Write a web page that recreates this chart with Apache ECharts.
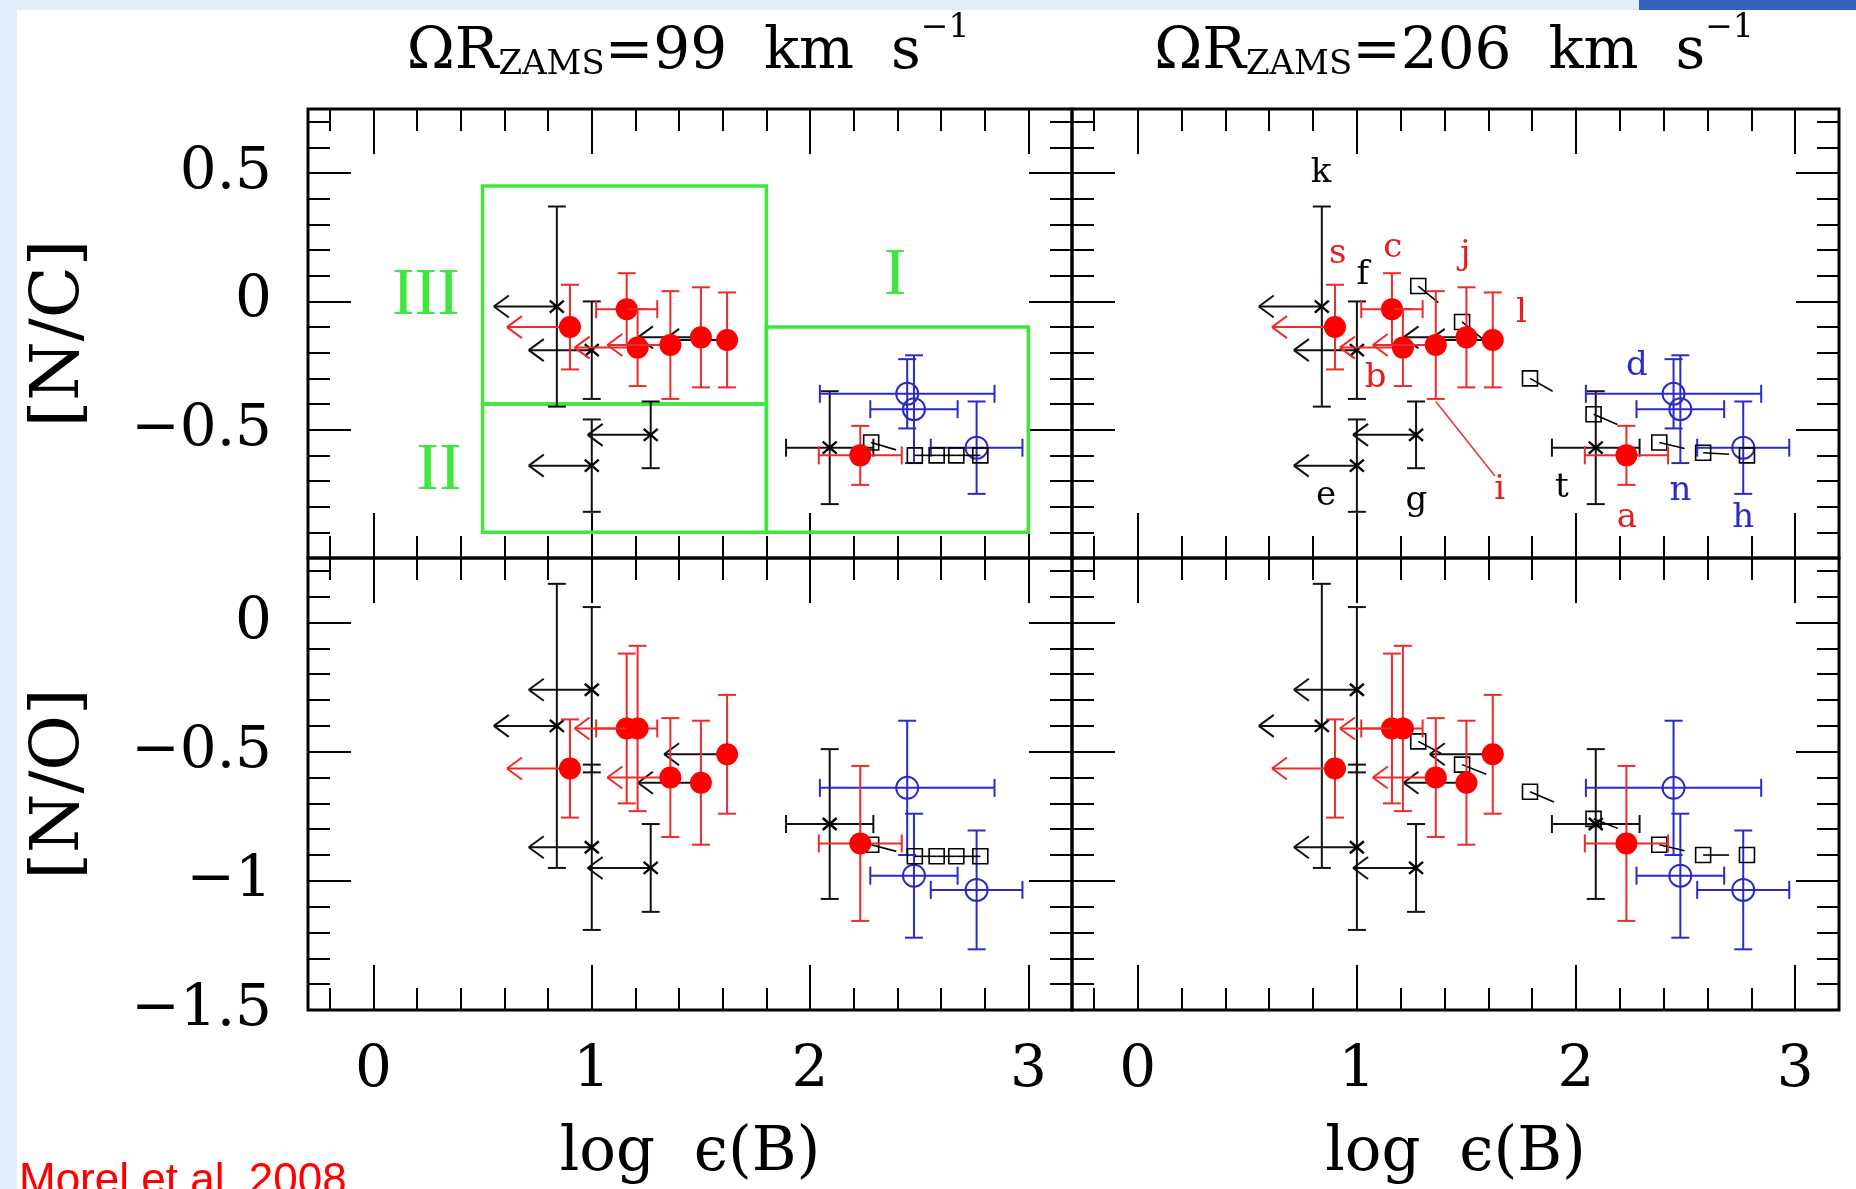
<!DOCTYPE html>
<html><head><meta charset="utf-8">
<script src="https://cdn.jsdelivr.net/npm/echarts@6/dist/echarts.min.js"></script>
<style>html,body{margin:0;padding:0;background:#fff}#c{width:1856px;height:1189px}</style>
</head><body><div id="c"></div>
<script>
// ---------------- data ----------------
const rotSpeeds = [99, 206];
const xTickLabels = [0, 1, 2, 3];
const ncTickLabels = [0.5, 0, -0.5];
const noTickLabels = [0, -0.5, -1, -1.5];

// Morel et al. stars (red filled circles)
const redNames = ['s', 'c', 'b', 'i', 'j', 'l', 'a'];
const redB     = [0.90, 1.16, 1.21, 1.36, 1.50, 1.62, 2.23];
const redBErr  = [0, 0.14, 0, 0, 0, 0, 0.19];
const redLim   = [1, 0, 1, 1, 0, 0, 0];
const redNC    = [-0.10, -0.03, -0.18, -0.17, -0.14, -0.15, -0.60];
const redNCErr = [0.165, 0.14, 0.15, 0.21, 0.195, 0.185, 0.115];
const redNO    = [-0.565, -0.41, -0.41, -0.60, -0.62, -0.51, -0.855];
const redNOErr = [0.19, 0.29, 0.32, 0.23, 0.24, 0.23, 0.30];

// other stars, boron upper limits (black crosses)
const blackNames = ['k', 'f', 'e', 'g', 't', 'j', 'l'];
const blackB     = [0.84, 1.00, 1.00, 1.27, 2.09, 1.50, 1.62];
const blackBErr  = [0, 0, 0, 0, 0.20, 0, 0];
const blackLim   = [1, 1, 1, 1, 0, 1, 1];
const blackNC    = [-0.02, -0.19, -0.64, -0.52, -0.57, -0.14, -0.15];
const blackNCErr = [0.39, 0.19, 0.18, 0.13, 0.22, 0, 0];
const blackNO    = [-0.40, -0.26, -0.87, -0.95, -0.78, -0.62, -0.51];
const blackNOErr = [0.55, 0.32, 0.32, 0.17, 0.29, 0, 0];

// other stars with boron measurements (blue open circles)
const blueNames = ['d', 'n', 'h'];
const blueB     = [2.445, 2.476, 2.763];
const blueBErr  = [0.40, 0.20, 0.21];
const blueNC    = [-0.36, -0.42, -0.57];
const blueNCErr = [0.135, 0.21, 0.18];
const blueNO    = [-0.64, -0.98, -1.035];
const blueNOErr = [0.26, 0.24, 0.23];

// rotating models (open squares)
const model99B   = [2.28, 2.48, 2.58, 2.67, 2.78];
const model99NC  = [-0.55, -0.60, -0.60, -0.60, -0.60];
const model99NO  = [-0.86, -0.905, -0.905, -0.905, -0.905];
const model206B  = [1.28, 1.48, 1.79, 2.08, 2.38, 2.58, 2.78];
const model206NC = [0.06, -0.08, -0.30, -0.44, -0.55, -0.59, -0.60];
const model206NO = [-0.46, -0.55, -0.655, -0.76, -0.86, -0.90, -0.90];

// regions (green boxes, top-left panel)
const boxNames = ['I', 'II', 'III'];
const boxX0 = [1.8, 0.5, 0.5];
const boxX1 = [3.0, 1.8, 1.8];
const boxY0 = [-0.9, -0.9, -0.4];
const boxY1 = [-0.1, -0.4, 0.45];
const boxLabelX = [2.39, 0.30, 0.24];
const boxLabelY = [0.10, -0.66, 0.02];

// star identification letters (top-right panel)
const starLabelText  = ['k', 's', 'f', 'c', 'j', 'l', 'b', 'i', 'e', 'g', 't', 'a', 'd', 'n', 'h'];
const starLabelGroup = ['other', 'morel', 'other', 'morel', 'morel', 'morel', 'morel', 'morel', 'other', 'other', 'other', 'morel', 'blue', 'blue', 'blue'];
const starLabelX = [0.836, 0.912, 1.027, 1.164, 1.495, 1.751, 1.085, 1.652, 0.859, 1.271, 1.935, 2.232, 2.278, 2.476, 2.763];
const starLabelY = [0.498, 0.183, 0.102, 0.206, 0.180, -0.047, -0.300, -0.734, -0.760, -0.780, -0.728, -0.844, -0.254, -0.740, -0.844];
const leaderX = [1.36, 1.63];
const leaderY = [-0.39, -0.68];

// ---------------- style ----------------
const RED = '#ff0000', REDBAR = '#ee2a2a', BLUE = '#2a2ac8', BLACK = '#111', GREEN = '#3ee63e';
const groupColor = { morel: '#e81c1c', other: '#000', blue: '#2a2ac8' };
const SERIF = 'DejaVu Serif';
const CAP = 9, ARROW = 63, AH_X = 15, AH_Y = 11;

function seg(x1, y1, x2, y2, color, w) {
  return { type: 'line', shape: { x1, y1, x2, y2 }, style: { stroke: color, lineWidth: w || 2 } };
}
function starRender(color, barColor, marker) {
  return function (params, api) {
    const x = api.value(0), y = api.value(1), xe = api.value(2), ye = api.value(3), lim = api.value(4);
    const p = api.coord([x, y]);
    const c = [];
    if (ye > 0) {
      const t = api.coord([x, y + ye])[1], b = api.coord([x, y - ye])[1];
      c.push(seg(p[0], t, p[0], b, barColor), seg(p[0] - CAP, t, p[0] + CAP, t, barColor), seg(p[0] - CAP, b, p[0] + CAP, b, barColor));
    }
    if (xe > 0) {
      const l = api.coord([x - xe, y])[0], r = api.coord([x + xe, y])[0];
      c.push(seg(l, p[1], r, p[1], barColor), seg(l, p[1] - CAP, l, p[1] + CAP, barColor), seg(r, p[1] - CAP, r, p[1] + CAP, barColor));
    }
    if (lim > 0) {
      const tx = p[0] - ARROW;
      c.push(seg(p[0], p[1], tx, p[1], barColor), seg(tx, p[1], tx + AH_X, p[1] - AH_Y, barColor), seg(tx, p[1], tx + AH_X, p[1] + AH_Y, barColor));
    }
    if (marker === 'x') {
      c.push(seg(p[0] - 7, p[1] - 6, p[0] + 7, p[1] + 6, color, 2.4), seg(p[0] - 7, p[1] + 6, p[0] + 7, p[1] - 6, color, 2.4));
    } else if (marker === 'dot') {
      c.push({ type: 'circle', shape: { cx: p[0], cy: p[1], r: 11 }, style: { fill: color } });
    } else {
      c.push({ type: 'circle', shape: { cx: p[0], cy: p[1], r: 11 }, style: { fill: 'none', stroke: color, lineWidth: 2 } });
    }
    return { type: 'group', children: c };
  };
}

const gridDefs = [
  { left: 308, top: 109, width: 764, height: 449, row: 'NC', rot: 0 },
  { left: 1072, top: 109, width: 767, height: 449, row: 'NC', rot: 1 },
  { left: 308, top: 558, width: 764, height: 452, row: 'NO', rot: 0 },
  { left: 1072, top: 558, width: 767, height: 452, row: 'NO', rot: 1 }
];

const xMinor = [];
for (let k = -1; k <= 15; k++) if (k % 5 !== 0) xMinor.push(+(k * 0.2).toFixed(1));
function yMinor(lo, hi) { const a = []; for (let k = lo; k <= hi; k++) if (k % 5 !== 0) a.push(k / 10); return a; }
const fmt = v => (v < 0 ? '\u2212' + String(-v) : String(v));
const tickStyle = { color: '#000', width: 2 };

const xAxis = [], yAxis = [], grid = [], series = [];
gridDefs.forEach((g, gi) => {
  grid.push({ left: g.left, top: g.top, width: g.width, height: g.height, show: true, borderColor: '#000', borderWidth: 3, backgroundColor: 'transparent', containLabel: false, outerBoundsMode: 'none' });
  const isBottom = g.row === 'NO', isLeft = g.rot === 0;
  const xb = { gridIndex: gi, type: 'value', min: -0.3, max: 3.2, splitLine: { show: false }, axisLine: { show: false, onZero: false } };
  xAxis.push(Object.assign({}, xb, {
    position: 'bottom',
    axisTick: { show: true, inside: true, length: 45, customValues: xTickLabels, lineStyle: tickStyle },
    axisLabel: { show: isBottom, customValues: xTickLabels, margin: 32, color: '#000', fontSize: 58, fontFamily: SERIF, formatter: fmt },
    name: isBottom ? 'log  \u03F5(B)' : '', nameLocation: 'middle', nameGap: 114, nameMoveOverlap: false,
    nameTextStyle: { color: '#000', fontSize: 61, fontFamily: SERIF }
  }));
  xAxis.push(Object.assign({}, xb, { position: 'bottom', axisTick: { show: true, inside: true, length: 22, customValues: xMinor, lineStyle: tickStyle }, axisLabel: { show: false } }));
  xAxis.push(Object.assign({}, xb, { position: 'top', axisTick: { show: true, inside: true, length: 45, customValues: xTickLabels, lineStyle: tickStyle }, axisLabel: { show: false } }));
  xAxis.push(Object.assign({}, xb, { position: 'top', axisTick: { show: true, inside: true, length: 22, customValues: xMinor, lineStyle: tickStyle }, axisLabel: { show: false } }));

  const ymin = isBottom ? -1.5 : -1, ymax = isBottom ? 0.25 : 0.75;
  const major = isBottom ? [-1, -0.5, 0] : [-0.5, 0, 0.5];
  const minor = isBottom ? yMinor(-14, 2) : yMinor(-9, 7);
  const labels = isBottom ? noTickLabels : ncTickLabels;
  const yb = { gridIndex: gi, type: 'value', min: ymin, max: ymax, splitLine: { show: false }, axisLine: { show: false, onZero: false } };
  yAxis.push(Object.assign({}, yb, {
    position: 'left',
    axisTick: { show: true, inside: true, length: 43, customValues: major, lineStyle: tickStyle },
    axisLabel: { show: isLeft, customValues: labels, margin: 36, color: '#000', fontSize: 58, fontFamily: SERIF, formatter: fmt },
    name: isLeft ? (isBottom ? '[N/O]' : '[N/C]') : '', nameLocation: 'middle', nameRotate: 90, nameGap: 214, nameMoveOverlap: false,
    nameTextStyle: { color: '#000', fontSize: 68, fontFamily: SERIF }
  }));
  yAxis.push(Object.assign({}, yb, { position: 'left', axisTick: { show: true, inside: true, length: 22, customValues: minor, lineStyle: tickStyle }, axisLabel: { show: false } }));
  yAxis.push(Object.assign({}, yb, { position: 'right', axisTick: { show: true, inside: true, length: 43, customValues: major, lineStyle: tickStyle }, axisLabel: { show: false } }));
  yAxis.push(Object.assign({}, yb, { position: 'right', axisTick: { show: true, inside: true, length: 22, customValues: minor, lineStyle: tickStyle }, axisLabel: { show: false } }));

  const ax = { xAxisIndex: gi * 4, yAxisIndex: gi * 4, coordinateSystem: 'cartesian2d', silent: true };

  if (gi === 0) {
    series.push(Object.assign({}, ax, {
      type: 'custom', z: 1,
      data: boxNames.map((n, i) => [boxX0[i], boxY0[i], boxX1[i], boxY1[i]]),
      renderItem: (p, api) => {
        const a = api.coord([api.value(0), api.value(1)]), b = api.coord([api.value(2), api.value(3)]);
        return { type: 'rect', shape: { x: a[0], y: b[1], width: b[0] - a[0], height: a[1] - b[1] }, style: { fill: 'none', stroke: GREEN, lineWidth: 3.5 } };
      }
    }));
    series.push(Object.assign({}, ax, {
      type: 'custom', z: 1,
      data: boxNames.map((n, i) => [boxLabelX[i], boxLabelY[i], i]),
      renderItem: (p, api) => {
        const c = api.coord([api.value(0), api.value(1)]);
        return { type: 'text', x: c[0], y: c[1], style: { text: boxNames[api.value(2)], fill: GREEN, font: '68px "Liberation Serif"', align: 'center', verticalAlign: 'middle', textAlign: 'center', textVerticalAlign: 'middle' } };
      }
    }));
  }

  const row = g.row;
  series.push(Object.assign({}, ax, {
    type: 'custom', z: 3,
    data: blackB.map((b, i) => [b, row === 'NC' ? blackNC[i] : blackNO[i], blackBErr[i], row === 'NC' ? blackNCErr[i] : blackNOErr[i], blackLim[i]]),
    renderItem: starRender('#000', BLACK, 'x')
  }));
  series.push(Object.assign({}, ax, {
    type: 'custom', z: 4,
    data: blueB.map((b, i) => [b, row === 'NC' ? blueNC[i] : blueNO[i], blueBErr[i], row === 'NC' ? blueNCErr[i] : blueNOErr[i], 0]),
    renderItem: starRender(BLUE, BLUE, 'ring')
  }));
  const mB = g.rot === 0 ? model99B : model206B;
  const mY = g.rot === 0 ? (row === 'NC' ? model99NC : model99NO) : (row === 'NC' ? model206NC : model206NO);
  const tails = [];
  for (let i = 0; i < mB.length - 1; i++) tails.push([mB[i], mY[i], mB[i + 1], mY[i + 1]]);
  series.push(Object.assign({}, ax, {
    type: 'custom', z: 5, data: tails,
    renderItem: (p, api) => {
      const a = api.coord([api.value(0), api.value(1)]), b = api.coord([api.value(2), api.value(3)]);
      const dx = b[0] - a[0], dy = b[1] - a[1], d = Math.hypot(dx, dy) || 1, L = Math.min(26, d);
      return seg(a[0], a[1], a[0] + dx / d * L, a[1] + dy / d * L, '#000', 1.6);
    }
  }));
  series.push(Object.assign({}, ax, {
    type: 'custom', z: 5, data: mB.map((b, i) => [b, mY[i]]),
    renderItem: (p, api) => {
      const c = api.coord([api.value(0), api.value(1)]);
      return { type: 'rect', shape: { x: c[0] - 7.5, y: c[1] - 7.5, width: 15, height: 15 }, style: { fill: 'none', stroke: '#000', lineWidth: 1.6 } };
    }
  }));
  series.push(Object.assign({}, ax, {
    type: 'custom', z: 6,
    data: redB.map((b, i) => [b, row === 'NC' ? redNC[i] : redNO[i], redBErr[i], row === 'NC' ? redNCErr[i] : redNOErr[i], redLim[i]]),
    renderItem: starRender(RED, REDBAR, 'dot')
  }));

  if (gi === 1) {
    series.push(Object.assign({}, ax, {
      type: 'line', z: 6, showSymbol: false, symbol: 'none',
      data: leaderX.map((x, i) => [x, leaderY[i]]),
      lineStyle: { color: '#e83a3a', width: 1.6 }
    }));
    series.push(Object.assign({}, ax, {
      type: 'custom', z: 7,
      data: starLabelText.map((t, i) => [starLabelX[i], starLabelY[i], i]),
      renderItem: (p, api) => {
        const c = api.coord([api.value(0), api.value(1)]);
        const i = api.value(2);
        return { type: 'text', x: c[0], y: c[1], style: { text: starLabelText[i], fill: groupColor[starLabelGroup[i]], font: '34px "DejaVu Serif"', align: 'center', verticalAlign: 'middle', textAlign: 'center', textVerticalAlign: 'middle' } };
      }
    }));
  }
});

const titleRich = {
  a: { fontSize: 58, fontFamily: SERIF, fontWeight: 'normal', color: '#000', lineHeight: 70, verticalAlign: 'bottom' },
  b: { fontSize: 34, fontFamily: SERIF, fontWeight: 'normal', color: '#000', lineHeight: 24, verticalAlign: 'bottom' },
  c: { fontSize: 33, fontFamily: SERIF, fontWeight: 'normal', color: '#000', lineHeight: 24, verticalAlign: 'top' }
};
const title = rotSpeeds.map((v, i) => ({
  text: '{a|\u03A9R}{b|ZAMS}{a|=' + v + '  km  s}{c|\u22121}',
  left: i === 0 ? 688 : 1454, top: 12, padding: 0, textAlign: 'center',
  textStyle: { fontWeight: 'normal', rich: titleRich }
}));

const chart = echarts.init(document.getElementById('c'), null, { renderer: 'canvas' });
chart.setOption({
  animation: false,
  backgroundColor: '#fff',
  title, grid, xAxis, yAxis, series,
  graphic: [
    { type: 'rect', x: 0, y: 0, shape: { width: 17, height: 1189 }, style: { fill: '#e3eefa' }, silent: true },
    { type: 'rect', x: 0, y: 0, shape: { width: 1856, height: 10 }, style: { fill: '#e3eefa' }, silent: true },
    { type: 'rect', x: 1639, y: 0, shape: { width: 217, height: 10 }, style: { fill: '#3462c0' }, silent: true },
    { type: 'text', x: 19, y: 1160, style: { text: 'Morel et al. 2008', fill: '#ff0000', font: '44px "Liberation Sans"' }, silent: true }
  ]
});
</script></body></html>
